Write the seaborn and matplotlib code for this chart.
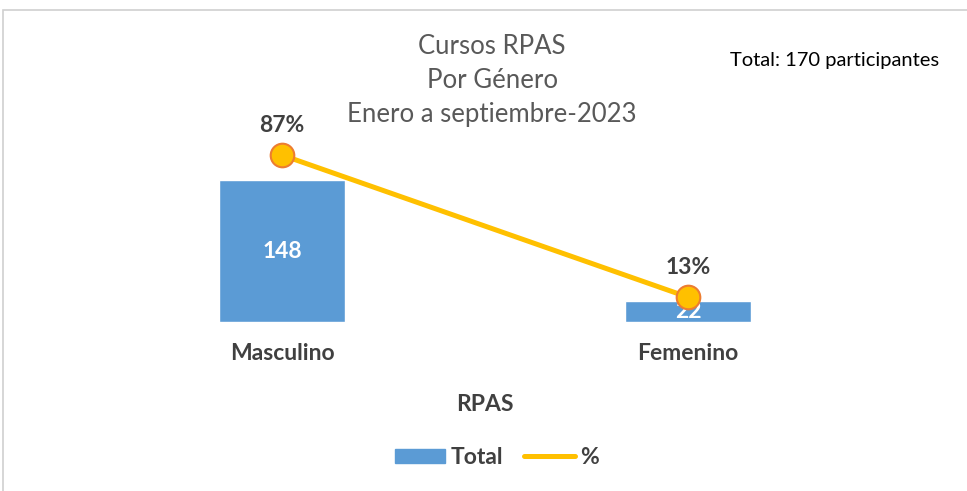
import matplotlib
matplotlib.use("Agg")
import matplotlib.pyplot as plt
import seaborn as sns
import pandas as pd
import numpy as np
from matplotlib.patches import Patch, Rectangle
from matplotlib.lines import Line2D

generos = ["Masculino", "Femenino"]
totales = [148, 22]
porcentajes = [0.87, 0.13]
total_participantes = 170

sns.set_theme(style="white")
plt.rcParams["font.family"] = ["Lato", "DejaVu Sans"]

BLUE = "#5B9BD5"
GOLD = "#FFC000"
ORANGE = "#ED7D31"
DARK = "#404040"
GREY = "#595959"

df = pd.DataFrame({"genero": generos, "total": totales, "pct": porcentajes})

fig = plt.figure(figsize=(9.67, 4.91), dpi=100)
fig.patches.append(Rectangle((0.003, -0.01), 1.0, 0.99, transform=fig.transFigure,
                             fill=False, edgecolor="#D0D0D0", linewidth=1.2))
ax = fig.add_axes([0.0817, 0.344, 0.8397, 0.391])

sns.barplot(data=df, x="genero", y="total", color=BLUE, saturation=1, width=0.31, ax=ax)
ax.set_ylim(0, 200)
ax.set_xlim(-0.5, 1.5)
ax.bar_label(ax.containers[0], label_type="center", color="white",
             fontsize=16.5, fontweight="bold")

ax2 = ax.twinx()
sns.lineplot(x=np.arange(len(generos)), y=df["pct"], ax=ax2, color=GOLD, linewidth=3.6,
             marker="o", markersize=17, markerfacecolor=GOLD, markeredgecolor=ORANGE,
             markeredgewidth=1.5)
ax2.set_ylim(0, 1.0)
for i, p in enumerate(porcentajes):
    ax2.annotate(f"{p:.0%}", (i, p), xytext=(0, 21), textcoords="offset points",
                 ha="center", va="center", fontsize=16.5, fontweight="bold", color=DARK)

for a in (ax, ax2):
    a.set_yticks([])
    a.set_ylabel("")
    for s in a.spines.values():
        s.set_visible(False)

ax.tick_params(axis="x", length=0, pad=15)
for t in ax.get_xticklabels():
    t.set_fontweight("bold")
    t.set_fontsize(16.5)
    t.set_color(DARK)
ax.set_xlabel("RPAS", fontsize=16.5, fontweight="bold", color=DARK, labelpad=22)

fig.text(0.509, 0.837, "Cursos RPAS\nPor Género\nEnero a septiembre-2023",
         ha="center", va="center", fontsize=18.5, color=GREY, linespacing=1.45)
fig.text(0.863, 0.876, f"Total: {total_participantes} participantes",
         ha="center", va="center", fontsize=14.5, color="black")

handles = [Patch(facecolor=BLUE, edgecolor=BLUE),
           Line2D([0], [0], color=GOLD, linewidth=3.6)]
leg = fig.legend(handles, ["Total", "%"], loc="center", bbox_to_anchor=(0.514, 0.068),
                 ncol=2, frameon=False, handlelength=2.2, handleheight=0.6,
                 columnspacing=0.9, handletextpad=0.25,
                 prop={"size": 16.5, "weight": "bold"})
for t in leg.get_texts():
    t.set_color(DARK)

fig.savefig("out.png", dpi=100)
